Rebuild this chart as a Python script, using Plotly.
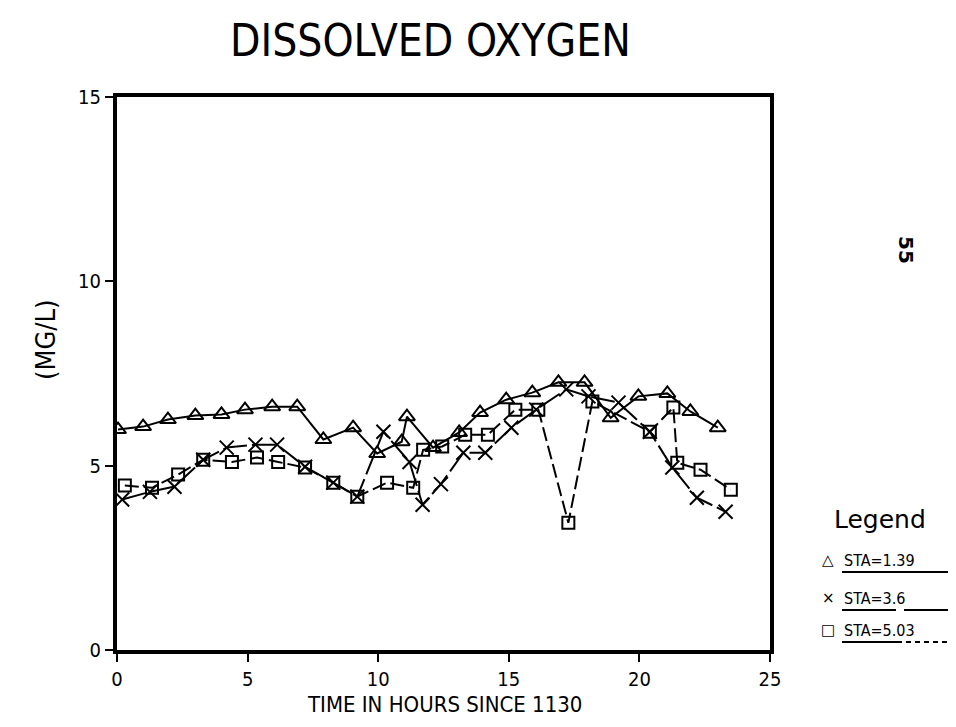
import plotly.graph_objects as go

# ---- data ----
t_sta139 = [0.04, 1.0, 1.95, 3.0, 4.0, 4.9, 5.94, 6.9, 7.9, 9.04, 9.96, 10.9, 11.1,
            12.1, 13.1, 13.9, 14.9, 15.9, 16.9, 17.9, 18.9, 19.96, 21.07, 21.95, 23.0]
do_sta139 = [5.98, 6.06, 6.25, 6.36, 6.39, 6.52, 6.6, 6.6, 5.71, 6.03, 5.33, 5.65, 6.33,
             5.49, 5.9, 6.44, 6.79, 6.98, 7.26, 7.26, 6.3, 6.88, 6.96, 6.47, 6.03]

t_sta36 = [0.2, 1.26, 2.2, 3.3, 4.2, 5.3, 6.13, 7.2, 8.28, 9.2, 10.2, 11.2, 11.7,
           12.4, 13.26, 14.1, 15.1, 16.05, 17.2, 18.05, 19.2, 20.4, 21.26, 22.2, 23.3]
do_sta36 = [4.08, 4.29, 4.43, 5.16, 5.49, 5.57, 5.57, 4.97, 4.54, 4.16, 5.92, 5.1, 3.94,
            4.5, 5.35, 5.35, 6.03, 6.52, 7.07, 6.88, 6.71, 5.92, 4.95, 4.13, 3.75]

t_sta503 = [0.3, 1.34, 2.34, 3.3, 4.4, 5.36, 6.17, 7.2, 8.28, 9.2, 10.34, 11.34, 11.72,
            12.45, 13.33, 14.2, 15.25, 16.13, 17.28, 18.2, 20.4, 21.3, 21.45, 22.34, 23.5]
do_sta503 = [4.46, 4.4, 4.76, 5.16, 5.1, 5.22, 5.1, 4.95, 4.54, 4.16, 4.54, 4.4, 5.43,
             5.52, 5.84, 5.84, 6.52, 6.52, 3.45, 6.74, 5.92, 6.58, 5.08, 4.89, 4.35]

series_names = ["STA=1.39", "STA=3.6", "STA=5.03"]
x_ticks = [0, 5, 10, 15, 20, 25]
y_ticks = [0, 5, 10, 15]

FONT = "Liberation Sans Narrow, DejaVu Sans Condensed, DejaVu Sans, sans-serif"

# plot box as seen in the reference (pixels); page body margin shifts everything by OFF
L, R, T, B = 117, 770, 97, 650
W, H = 956, 727
OFF = 8


def px(x):
    return (x - L) / (R - L)


def py(y):
    return (B - y) / (B - T)


fig = go.Figure()
fig.add_trace(go.Scatter(x=t_sta139, y=do_sta139, mode="lines+markers", name=series_names[0],
                         line=dict(color="black", width=2),
                         marker=dict(symbol="triangle-up-open", size=14, color="black",
                                     line=dict(width=2))))
fig.add_trace(go.Scatter(x=t_sta36, y=do_sta36, mode="lines+markers", name=series_names[1],
                         line=dict(color="black", width=2, dash="24px,5px"),
                         marker=dict(symbol="x-thin-open", size=14, color="black",
                                     line=dict(width=2, color="black"))))
fig.add_trace(go.Scatter(x=t_sta503, y=do_sta503, mode="lines+markers", name=series_names[2],
                         line=dict(color="black", width=2, dash="14px,5px"),
                         marker=dict(symbol="square-open", size=12, color="black",
                                     line=dict(width=2))))

annotations = [
    dict(text="DISSOLVED OXYGEN", x=px(430), y=py(41), xref="paper", yref="paper",
         showarrow=False, font=dict(family=FONT, size=44, color="black"),
         xanchor="center", yanchor="middle"),
    dict(text="TIME IN HOURS SINCE 1130", x=px(445), y=py(704), xref="paper", yref="paper",
         showarrow=False, font=dict(family=FONT, size=22, color="black"),
         xanchor="center", yanchor="middle"),
    dict(text="(MG/L)", x=px(45), y=py(340), xref="paper", yref="paper",
         showarrow=False, textangle=-90, font=dict(family=FONT, size=27, color="black"),
         xanchor="center", yanchor="middle"),
    dict(text="<b>55</b>", x=px(906), y=py(250), xref="paper", yref="paper", showarrow=False,
         textangle=90, font=dict(family="DejaVu Sans, sans-serif", size=20, color="black"),
         xanchor="center", yanchor="middle"),
    dict(text="Legend", x=px(880), y=py(519), xref="paper", yref="paper", showarrow=False,
         font=dict(family="DejaVu Sans, sans-serif", size=25, color="black"),
         xanchor="center", yanchor="middle"),
]
legend_y = [560, 598, 630]
legend_sym = ["\u25b3", "\u00d7", "\u25a1"]
for yy, sym, name in zip(legend_y, legend_sym, series_names):
    annotations.append(dict(text=sym, x=px(828), y=py(yy), xref="paper", yref="paper",
                            showarrow=False, xanchor="center", yanchor="middle",
                            font=dict(family="DejaVu Sans, sans-serif", size=15, color="black")))
    annotations.append(dict(text=name, x=px(842), y=py(yy), xref="paper", yref="paper",
                            showarrow=False, xanchor="left", yanchor="middle",
                            font=dict(family=FONT, size=16, color="black")))

# underlines of the legend entries, drawn in each series' line style
underline_segments = [
    (560, 842, 955, "solid"),
    (598, 842, 896, "solid"),
    (598, 904, 952, "solid"),
    (630, 842, 902, "solid"),
    (630, 906, 952, "5px,4px"),
]
shapes = []
for yy, x0, x1, d in underline_segments:
    shapes.append(dict(type="line", xref="paper", yref="paper",
                       x0=px(x0), x1=px(x1), y0=py(yy + 12), y1=py(yy + 12),
                       line=dict(color="black", width=2, dash=d)))

fig.update_layout(
    width=W, height=H, autosize=False,
    margin=dict(l=L - OFF, r=W - R + OFF, t=T - OFF, b=H - B + OFF),
    paper_bgcolor="white", plot_bgcolor="white",
    showlegend=False,
    annotations=annotations, shapes=shapes,
    font=dict(family=FONT, color="black"),
)
fig.update_xaxes(range=[0, 25], tickvals=x_ticks, ticks="outside", ticklen=8, tickwidth=2,
                 tickcolor="black", showgrid=False, zeroline=False, showline=True,
                 linecolor="black", linewidth=4, mirror=True,
                 tickfont=dict(family=FONT, size=20, color="black"))
fig.update_yaxes(range=[0, 15], tickvals=y_ticks, ticks="outside", ticklen=8, tickwidth=2,
                 tickcolor="black", showgrid=False, zeroline=False, showline=True,
                 linecolor="black", linewidth=4, mirror=True,
                 tickfont=dict(family=FONT, size=20, color="black"))

fig.write_html("out.html")
